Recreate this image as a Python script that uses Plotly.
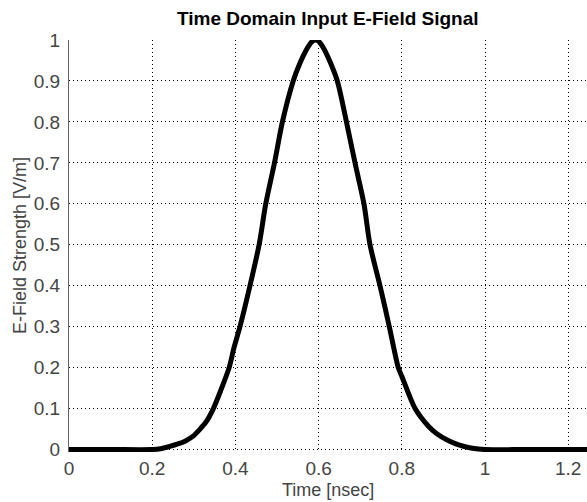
import plotly.graph_objects as go

# Time [nsec]
time_ns = [0, 0.1, 0.2, 0.22, 0.24, 0.26, 0.28, 0.30, 0.315, 0.33, 0.347, 0.365,
           0.385, 0.397, 0.411, 0.435, 0.457, 0.473, 0.494, 0.513, 0.539, 0.555,
           0.57, 0.582, 0.591, 0.60, 0.612, 0.627, 0.645, 0.667, 0.6875, 0.709,
           0.7236, 0.7476, 0.77, 0.7916, 0.80, 0.832, 0.864, 0.885, 0.908, 0.93,
           0.948, 0.97, 1.0, 1.1, 1.25]
# E-Field Strength [V/m]
efield = [0, 0, 0, 0.002, 0.007, 0.013, 0.021, 0.034, 0.05, 0.068, 0.1, 0.145,
          0.2, 0.25, 0.3, 0.4, 0.5, 0.6, 0.7, 0.8, 0.9, 0.943,
          0.975, 0.994, 1.0, 0.997, 0.98, 0.948, 0.9, 0.8, 0.7, 0.6,
          0.5, 0.4, 0.3, 0.2, 0.179, 0.1, 0.057, 0.038, 0.024, 0.014,
          0.008, 0.003, 0, 0, 0]

x_ticks = [0, 0.2, 0.4, 0.6, 0.8, 1.0, 1.2]
x_tick_labels = ["0", "0.2", "0.4", "0.6", "0.8", "1", "1.2"]
y_ticks = [0, 0.1, 0.2, 0.3, 0.4, 0.5, 0.6, 0.7, 0.8, 0.9, 1.0]
y_tick_labels = ["0", "0.1", "0.2", "0.3", "0.4", "0.5", "0.6", "0.7", "0.8", "0.9", "1"]

FONT = "Liberation Sans, Arial, sans-serif"
TXT = "#444"

fig = go.Figure()
fig.add_trace(go.Scatter(
    x=time_ns, y=efield, mode="lines",
    line=dict(color="black", width=5, shape="spline", smoothing=0.8),
    showlegend=False, hoverinfo="skip",
))

fig.update_layout(
    width=587, height=502,
    margin=dict(l=69, r=0, t=40, b=50),
    paper_bgcolor="white", plot_bgcolor="white",
    font=dict(family=FONT, size=18, color=TXT),
    xaxis=dict(
        range=[0, 1.2452], tickvals=x_ticks, ticktext=x_tick_labels,
        showgrid=True, gridcolor="black", gridwidth=1, griddash="1px,3px",
        zeroline=False, showline=False, ticks="",
        tickfont=dict(family=FONT, size=19, color=TXT),
        ticklabelstandoff=3,
    ),
    yaxis=dict(
        range=[-0.006, 1], tickvals=y_ticks, ticktext=y_tick_labels,
        showgrid=True, gridcolor="black", gridwidth=1, griddash="1px,3px",
        zeroline=False, showline=True, linecolor="#666", linewidth=1, ticks="",
        tickfont=dict(family=FONT, size=19, color=TXT),
        ticklabelstandoff=4,
    ),
    annotations=[
        dict(text="<b>Time Domain Input E-Field Signal</b>", xref="paper", yref="paper",
             x=0.5, y=(452 - 18) / 412, xanchor="center", yanchor="middle",
             showarrow=False, font=dict(family=FONT, size=19, color="black")),
        dict(text="Time [nsec]", xref="paper", yref="paper",
             x=0.5, y=(452 - 490) / 412, xanchor="center", yanchor="middle",
             showarrow=False, font=dict(family=FONT, size=18, color=TXT)),
        dict(text="E-Field Strength [V/m]", xref="paper", yref="paper",
             x=(20 - 69) / 518, y=(452 - 246) / 412, xanchor="center", yanchor="middle",
             textangle=-90, showarrow=False, font=dict(family=FONT, size=18, color=TXT)),
    ],
)

fig.write_html("out.html")
